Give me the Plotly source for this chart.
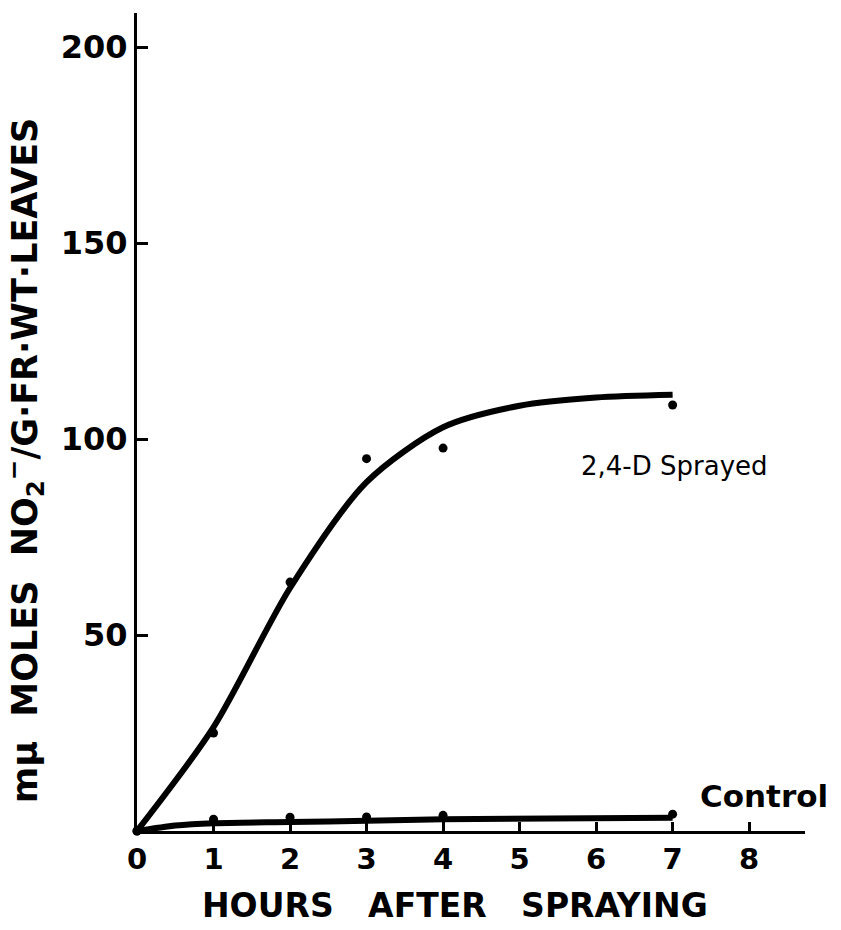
import plotly.graph_objects as go

# Measured points
hours = [0, 1, 2, 3, 4, 7]
sprayed = [0, 25, 63.5, 95, 97.7, 108.7]
control = [0, 3, 3.5, 3.6, 4.0, 4.3]

# Hand-drawn fitted curves
fit_hours = [0, 1, 2, 3, 4, 5, 6, 7]
sprayed_fit = [0, 26.5, 62, 89, 103, 108.5, 110.6, 111.3]
control_fit_hours = [0, 0.5, 1, 2, 3, 4, 7]
control_fit = [0, 1.4, 2, 2.3, 2.6, 3.0, 3.4]

x_ticks = [0, 1, 2, 3, 4, 5, 6, 7, 8]
y_ticks = [50, 100, 150, 200]

FONT = "DejaVu Sans"

fig = go.Figure()
fig.add_trace(go.Scatter(x=fit_hours, y=sprayed_fit, mode="lines",
                         line=dict(color="black", width=6, shape="spline", smoothing=0.8),
                         cliponaxis=False, showlegend=False))
fig.add_trace(go.Scatter(x=control_fit_hours, y=control_fit, mode="lines",
                         line=dict(color="black", width=6, shape="spline", smoothing=0.8),
                         cliponaxis=False, showlegend=False))
fig.add_trace(go.Scatter(x=hours, y=sprayed, mode="markers",
                         marker=dict(color="black", size=9),
                         cliponaxis=False, showlegend=False))
fig.add_trace(go.Scatter(x=hours, y=control, mode="markers",
                         marker=dict(color="black", size=9),
                         cliponaxis=False, showlegend=False))

fig.update_layout(
    width=841, height=930,
    margin=dict(l=137, r=36, t=13, b=99),
    paper_bgcolor="white", plot_bgcolor="white",
    font=dict(family=FONT, color="black"),
    xaxis=dict(range=[0, 8.73], tickvals=x_ticks,
               ticktext=["<b>%d</b>" % v for v in x_ticks],
               showline=True, linecolor="black", linewidth=3,
               ticks="inside", ticklen=9, tickwidth=3, tickcolor="black",
               showgrid=False, zeroline=False,
               tickfont=dict(family=FONT, size=29, color="black")),
    yaxis=dict(range=[0, 208.7], tickvals=y_ticks,
               ticktext=["<b>%d</b>" % v for v in y_ticks],
               showline=True, linecolor="black", linewidth=3,
               ticks="inside", ticklen=11, tickwidth=3, tickcolor="black",
               showgrid=False, zeroline=False,
               tickfont=dict(family=FONT, size=32, color="black")),
    annotations=[
        dict(text="<b>HOURS   AFTER   SPRAYING</b>", xref="paper", yref="paper",
             x=0.476, y=-0.0905, xanchor="center", yanchor="middle", showarrow=False,
             font=dict(family=FONT, size=33, color="black")),
        dict(text="<b>mμ  MOLES  NO<sub>2</sub><sup>−</sup>/G·FR·WT·LEAVES</b>",
             xref="paper", yref="paper", x=-0.168, y=0.453, textangle=-90,
             xanchor="center", yanchor="middle",
             showarrow=False, font=dict(family=FONT, size=35, color="black")),
        dict(text="2,4-D Sprayed", xref="x", yref="y", x=7.03, y=93,
             xanchor="center", yanchor="middle",
             showarrow=False, font=dict(family=FONT, size=26, color="black")),
        dict(text="<b>Control</b>", xref="x", yref="y", x=8.2, y=8.9,
             xanchor="center", yanchor="middle", showarrow=False,
             font=dict(family=FONT, size=31, color="black")),
    ],
)

fig.write_html("out.html")
